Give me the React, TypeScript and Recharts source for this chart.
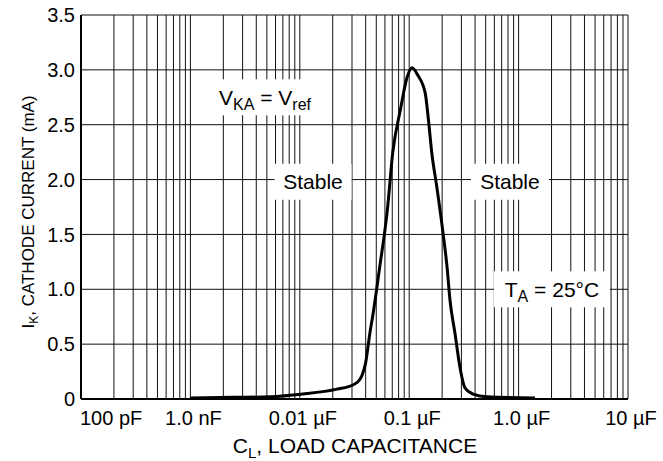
import React from 'react';
import { LineChart, Line, XAxis, YAxis, CartesianGrid, ReferenceDot } from 'recharts';

// Load capacitance (nF)
const capacitanceNF = [
  1.0, 2.51, 5.37, 10.7, 21.9, 30.9, 35.5, 37.2, 39.8, 43.7, 46.8, 53.7, 63.1, 70.8, 83.2, 95.5,
  106, 120, 140, 149, 161, 179, 204, 222, 236, 262, 291, 324, 383, 514, 1413,
];
// Cathode current (mA)
const cathodeCurrentMA = [
  0.01, 0.015, 0.02, 0.045, 0.09, 0.13, 0.18, 0.22, 0.32, 0.6, 0.78, 1.2, 1.72, 2.25, 2.64, 2.93,
  3.02, 2.95, 2.79, 2.57, 2.24, 1.93, 1.51, 1.2, 0.9, 0.6, 0.29, 0.1, 0.045, 0.02, 0.01,
];

const decadeExponents = [-10, -9, -8, -7, -6, -5];
const xTickLabels = ['100 pF', '1.0 nF', '0.01 \u00b5F', '0.1 \u00b5F', '1.0 \u00b5F', '10 \u00b5F'];
const yTicks = [0, 0.5, 1.0, 1.5, 2.0, 2.5, 3.0, 3.5];
const yTickLabels = ['0', '0.5', '1.0', '1.5', '2.0', '2.5', '3.0', '3.5'];

const FONT = '"Liberation Sans", Arial, Helvetica, sans-serif';
const FS = 20;
const AFS = 21;

const data = capacitanceNF.map((c, i) => ({
  logC: Math.log10(c * 1e-9),
  current: cathodeCurrentMA[i],
}));

const xTicks: number[] = [];
decadeExponents.forEach((e, i) => {
  if (i === decadeExponents.length - 1) {
    xTicks.push(e);
  } else {
    for (let k = 1; k <= 9; k++) xTicks.push(e + Math.log10(k));
  }
});

const XTick = (props: any) => {
  const { x, y, payload } = props;
  const v = payload.value;
  if (Math.abs(v - Math.round(v)) > 1e-6) return null;
  const idx = decadeExponents.indexOf(Math.round(v));
  return (
    <text
      x={idx === 0 ? x - 1 : x + 3}
      y={y + 26}
      textAnchor={idx === 0 ? 'start' : 'middle'}
      fontFamily={FONT}
      fontSize={FS}
      fill="#000"
    >
      {xTickLabels[idx]}
    </text>
  );
};

const YTick = (props: any) => {
  const { x, y, payload } = props;
  const idx = yTicks.indexOf(payload.value);
  return (
    <text x={x - 6} y={y} dy="0.36em" textAnchor="end" fontFamily={FONT} fontSize={FS} fill="#000">
      {yTickLabels[idx]}
    </text>
  );
};

const YTitle = () => (
  <text
    x={28}
    y={212}
    transform="rotate(-90, 28, 212)"
    textAnchor="middle"
    dy="0.36em"
    fontFamily={FONT}
    fontSize={17}
    fill="#000"
  >
    <tspan>I</tspan>
    <tspan fontSize={12} dy={4}>K</tspan>
    <tspan dy={-4}>, CATHODE CURRENT (mA)</tspan>
  </text>
);

const XTitle = () => (
  <text x={355} y={453} textAnchor="middle" fontFamily={FONT} fontSize={AFS} fill="#000">
    <tspan>C</tspan>
    <tspan fontSize={15} dy={5}>L</tspan>
    <tspan dy={-5}>, LOAD CAPACITANCE</tspan>
  </text>
);

const makeBox = (w: number, content: React.ReactNode) => (props: any) => {
  const { cx, cy } = props;
  return (
    <g>
      <rect x={cx - w / 2} y={cy - 18} width={w} height={36} fill="#fff" />
      <text x={cx} y={cy} dy="0.36em" textAnchor="middle" fontFamily={FONT} fontSize={AFS} fill="#000">
        {content}
      </text>
    </g>
  );
};

const vkaContent = (
  <>
    <tspan>V</tspan>
    <tspan fontSize={16} dy={5}>KA</tspan>
    <tspan dy={-5}> = V</tspan>
    <tspan fontSize={16} dy={5}>ref</tspan>
  </>
);
const taContent = (
  <>
    <tspan>T</tspan>
    <tspan fontSize={16} dy={5}>A</tspan>
    <tspan dy={-5}> = 25°C</tspan>
  </>
);

export default function App() {
  return (
    <div style={{ position: 'absolute', left: 0, top: 0, background: '#fff' }}>
      <LineChart width={663} height={461} data={data} margin={{ top: 15, right: 35, bottom: 0, left: 0 }}>
        <CartesianGrid stroke="#111" strokeWidth={1} />
        <XAxis
          dataKey="logC"
          type="number"
          domain={[-10, -5]}
          ticks={xTicks}
          interval={0}
          height={62}
          tickSize={0}
          tickMargin={0}
          tickLine={false}
          axisLine={{ stroke: '#000', strokeWidth: 2 }}
          tick={<XTick />}
          label={<XTitle />}
          allowDataOverflow
        />
        <YAxis
          type="number"
          domain={[0, 3.5]}
          ticks={yTicks}
          interval={0}
          width={81}
          tickSize={0}
          tickMargin={0}
          tickLine={false}
          axisLine={{ stroke: '#000', strokeWidth: 2 }}
          tick={<YTick />}
          label={<YTitle />}
          allowDataOverflow
        />
        <ReferenceDot x={-8.318} y={2.75} r={0} ifOverflow="visible" shape={makeBox(100, vkaContent)} />
        <ReferenceDot x={-7.879} y={1.98} r={0} ifOverflow="visible" shape={makeBox(77, 'Stable')} />
        <ReferenceDot x={-6.079} y={1.98} r={0} ifOverflow="visible" shape={makeBox(78, 'Stable')} />
        <ReferenceDot x={-5.695} y={1.0} r={0} ifOverflow="visible" shape={makeBox(116, taContent)} />
        <Line
          type="monotone"
          dataKey="current"
          stroke="#000"
          strokeWidth={3}
          dot={false}
          isAnimationActive={false}
        />
      </LineChart>
    </div>
  );
}
